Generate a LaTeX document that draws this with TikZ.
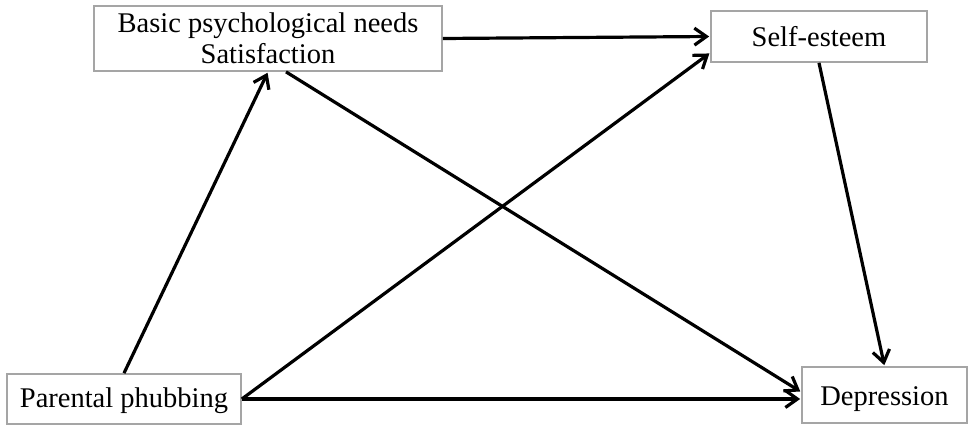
\documentclass[tikz,border=0pt]{standalone}
\usepackage{fontspec}
\setmainfont{Liberation Serif}
\usetikzlibrary{arrows.meta,calc}
\begin{document}
\begin{tikzpicture}[x=1pt,y=-1pt,
  box/.style={draw={rgb,255:red,165;green,165;blue,165},line width=1.7pt,fill=white,
    inner sep=0pt,align=center,font=\fontsize{28.5}{31.5}\selectfont},
  conn/.style={line width=3.2pt,-{Straight Barb[length=12pt,width=17pt,line width=3.2pt]},shorten >=1pt}]
\path[use as bounding box,fill=white] (0,0) rectangle (975,433);
\node[box,minimum width=348pt,minimum height=65pt] (bpn) at (268,38.5) {Basic psychological needs\\Satisfaction};
\node[box,minimum width=216pt,minimum height=51pt] (se) at (819,36.5) {Self-esteem};
\node[box,minimum width=234pt,minimum height=50pt] (pp) at (124,399) {\raisebox{-2pt}[\height][\depth]{Parental phubbing}};
\node[box,minimum width=165pt,minimum height=56pt] (dep) at (884.5,395) {\raisebox{-4pt}[\height][\depth]{Depression}};
\draw[conn] (pp.north) -- (bpn.south);
\draw[conn] ($(bpn.south)+(18,0)$) -- ($(dep.west)+(0,-3)$);
\draw[conn] (bpn.east) -- (se.west);
\draw[conn] (pp.east) -- ($(se.south west)+(0,-10)$);
\draw[conn] (pp.east) -- (pp.east -| dep.west);
\draw[conn] (se.south) -- (dep.north);
\end{tikzpicture}
\end{document}
